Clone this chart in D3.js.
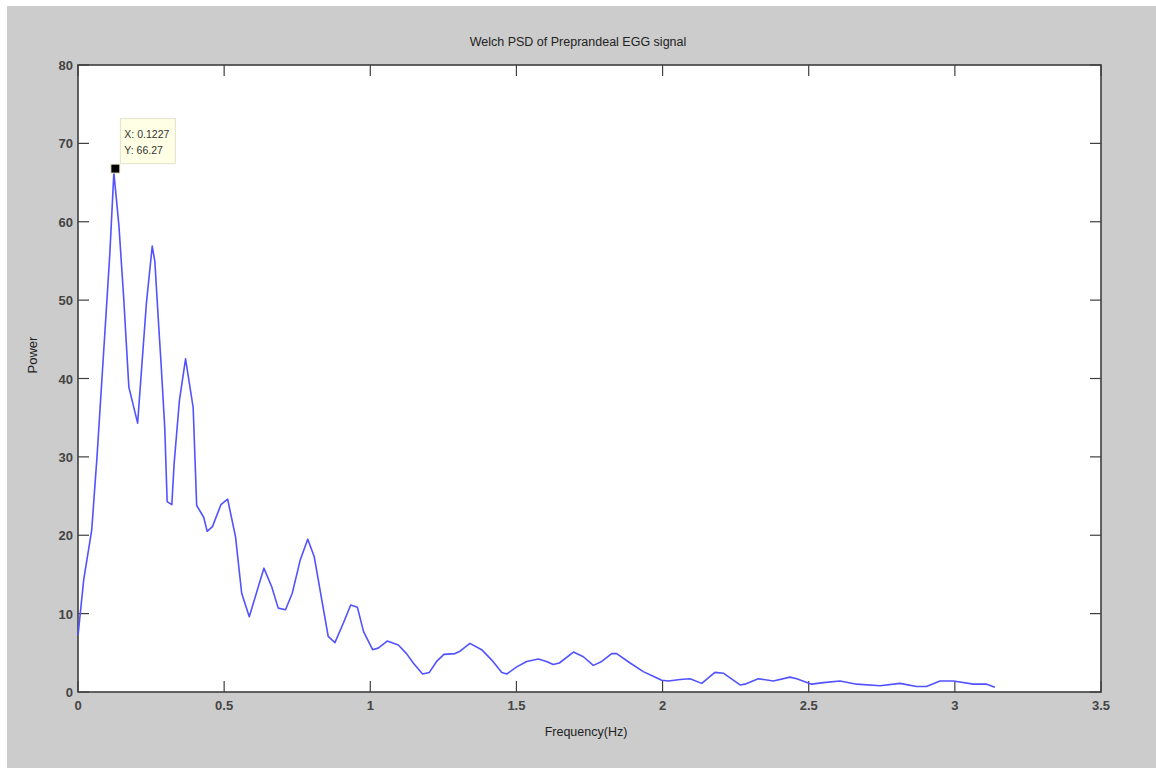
<!DOCTYPE html>
<html>
<head>
<meta charset="utf-8">
<script src="https://cdn.jsdelivr.net/npm/d3@7"></script>
<style>
  html, body { margin: 0; padding: 0; background: #fff; }
  svg { display: block; }
  text { font-family: "Liberation Sans", Arial, sans-serif; }
</style>
</head>
<body>
<svg id="chart"></svg>
<script>
// values
var freq = [0, 0.0195, 0.047, 0.065, 0.082, 0.099, 0.109, 0.1227, 0.140, 0.156, 0.174, 0.204, 0.234, 0.254, 0.263,
  0.275, 0.285, 0.297, 0.305, 0.321, 0.329, 0.347, 0.368, 0.394, 0.406, 0.430, 0.442, 0.460, 0.489,
  0.512, 0.539, 0.560, 0.586, 0.636, 0.663, 0.685, 0.710, 0.733, 0.760, 0.786, 0.808, 0.856, 0.879,
  0.908, 0.933, 0.956, 0.977, 1.008, 1.027, 1.058, 1.096, 1.124, 1.147, 1.179, 1.202, 1.227, 1.252,
  1.290, 1.307, 1.341, 1.381, 1.415, 1.450, 1.467, 1.501, 1.535, 1.575, 1.603, 1.626, 1.647, 1.695,
  1.729, 1.763, 1.792, 1.826, 1.843, 1.889, 1.934, 1.968, 1.997, 2.020, 2.060, 2.094, 2.134, 2.179,
  2.208, 2.265, 2.282, 2.327, 2.379, 2.436, 2.459, 2.510, 2.550, 2.607, 2.664, 2.744, 2.812, 2.869,
  2.903, 2.949, 2.995, 3.063, 3.109, 3.137];
var power = [7.2, 14.3, 20.7, 30, 40, 50, 56, 66.27, 59.5, 50.5, 38.9, 34.3, 49.6, 56.9, 54.9,
  47.4, 41.4, 33.6, 24.3, 23.9, 29.2, 37.2, 42.5, 36.3, 23.8, 22.3, 20.5, 21.1, 23.9,
  24.6, 19.8, 12.6, 9.6, 15.8, 13.4, 10.7, 10.5, 12.6, 16.8, 19.5, 17.3, 7.1, 6.3,
  8.8, 11.1, 10.8, 7.7, 5.4, 5.6, 6.5, 6.0, 4.9, 3.7, 2.3, 2.5, 3.9, 4.8,
  4.9, 5.2, 6.2, 5.4, 4.1, 2.5, 2.3, 3.2, 3.9, 4.2, 3.9, 3.5, 3.7, 5.1,
  4.5, 3.4, 3.9, 4.9, 4.9, 3.7, 2.6, 2.0, 1.5, 1.4, 1.6, 1.7, 1.1, 2.5,
  2.4, 0.9, 1.0, 1.7, 1.4, 1.9, 1.7, 1.0, 1.2, 1.4, 1.0, 0.8, 1.1, 0.7,
  0.7, 1.4, 1.4, 1.0, 1.0, 0.6];
var xTicks = [0, 0.5, 1, 1.5, 2, 2.5, 3, 3.5];
var yTicks = [0, 10, 20, 30, 40, 50, 60, 70, 80];
var tipX = 0.1227, tipY = 66.27;

var width = 1156, height = 768;
var svg = d3.select("#chart").attr("width", width).attr("height", height);

// figure background
svg.append("rect")
  .attr("x", 7).attr("y", 6)
  .attr("width", width - 7).attr("height", height - 6)
  .attr("fill", "#cccccc");

var plot = {left: 78, top: 65, right: 1101, bottom: 692};

var x = d3.scaleLinear().domain([0, 3.5]).range([plot.left, plot.right]);
var y = d3.scaleLinear().domain([0, 80]).range([plot.bottom, plot.top]);

svg.append("rect")
  .attr("x", plot.left).attr("y", plot.top)
  .attr("width", plot.right - plot.left).attr("height", plot.bottom - plot.top)
  .attr("fill", "#fff");

// ticks inside the box, matlab style
var tl = 11;
var axisColor = "#3f3f3f";
var labelColor = "#444";
var g = svg.append("g");

xTicks.forEach(function(t) {
  g.append("line").attr("x1", x(t)).attr("x2", x(t))
    .attr("y1", plot.bottom).attr("y2", plot.bottom - tl)
    .attr("stroke", axisColor).attr("stroke-width", 1.2);
  g.append("line").attr("x1", x(t)).attr("x2", x(t))
    .attr("y1", plot.top).attr("y2", plot.top + tl)
    .attr("stroke", axisColor).attr("stroke-width", 1.2);
  g.append("text").attr("x", x(t)).attr("y", plot.bottom + 18)
    .attr("text-anchor", "middle").attr("font-size", 13).attr("font-weight", "bold")
    .attr("fill", labelColor).text(t);
});

yTicks.forEach(function(t) {
  g.append("line").attr("x1", plot.left).attr("x2", plot.left + tl)
    .attr("y1", y(t)).attr("y2", y(t))
    .attr("stroke", axisColor).attr("stroke-width", 1.2);
  g.append("line").attr("x1", plot.right).attr("x2", plot.right - tl)
    .attr("y1", y(t)).attr("y2", y(t))
    .attr("stroke", axisColor).attr("stroke-width", 1.2);
  g.append("text").attr("x", plot.left - 5).attr("y", y(t) + 5)
    .attr("text-anchor", "end").attr("font-size", 13).attr("font-weight", "bold")
    .attr("fill", labelColor).text(t);
});

// box
svg.append("rect")
  .attr("x", plot.left).attr("y", plot.top)
  .attr("width", plot.right - plot.left).attr("height", plot.bottom - plot.top)
  .attr("fill", "none").attr("stroke", axisColor).attr("stroke-width", 1.6);

// the psd curve
var pts = freq.map(function(f, i) { return [f, power[i]]; });
var line = d3.line().x(function(d) { return x(d[0]); }).y(function(d) { return y(d[1]); });
svg.append("path")
  .datum(pts)
  .attr("d", line)
  .attr("fill", "none")
  .attr("stroke", "#5252ff")
  .attr("stroke-width", 1.6)
  .attr("stroke-linejoin", "round");

// data tip (marker sits a little above the vertex, as in the figure)
var mx = x(tipX) + 1.5, my = y(tipY) - 4;
svg.append("rect")
  .attr("x", mx - 4.5).attr("y", my - 4.5)
  .attr("width", 9).attr("height", 9)
  .attr("fill", "#000").attr("stroke", "#f3efcf").attr("stroke-width", 1);

var tip = svg.append("g").attr("transform", "translate(" + (mx + 5) + "," + (my - 50) + ")");
tip.append("rect")
  .attr("width", 55).attr("height", 45)
  .attr("fill", "#ffffe6").attr("stroke", "#e4e2cc").attr("stroke-width", 1);
tip.append("text").attr("x", 4).attr("y", 19).attr("font-size", 10.5).attr("fill", "#333")
  .text("X: " + tipX);
tip.append("text").attr("x", 4).attr("y", 35).attr("font-size", 10.5).attr("fill", "#333")
  .text("Y: " + tipY);

// labels
svg.append("text").attr("x", 578).attr("y", 46)
  .attr("text-anchor", "middle").attr("font-size", 12.5).attr("fill", "#222")
  .text("Welch PSD of Preprandeal EGG signal");
svg.append("text").attr("x", 586).attr("y", 736)
  .attr("text-anchor", "middle").attr("font-size", 12.5).attr("fill", "#222")
  .text("Frequency(Hz)");
svg.append("text")
  .attr("transform", "translate(37,355) rotate(-90)")
  .attr("text-anchor", "middle").attr("font-size", 13).attr("fill", "#222")
  .text("Power");
</script>
</body>
</html>
